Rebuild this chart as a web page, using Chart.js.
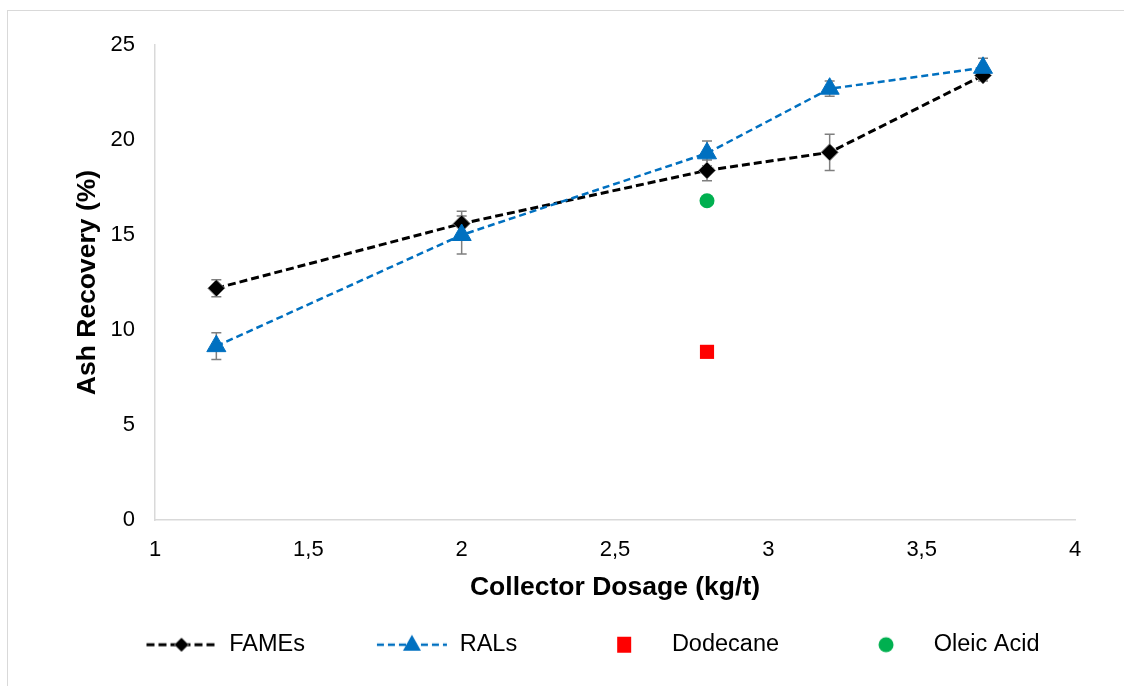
<!DOCTYPE html>
<html lang="en">
<head>
<meta charset="UTF-8" />
<title>Ash recovery vs collector dosage</title>
<style>
  html, body { margin: 0; padding: 0; background: #fff; overflow: hidden; }
  .frame { position: absolute; left: 7px; top: 10px; width: 1140px; height: 700px; border: 1px solid #d9d9d9; }
  .wrap { position: absolute; left: 0; top: 0; width: 1124px; height: 686px; }
</style>
<script src="https://cdn.jsdelivr.net/npm/chart.js"></script>
</head>
<body>
<div class="frame"></div>
<div class="wrap"><canvas id="myChart"></canvas></div>
<script>
// values
const dosage = [1.2, 2.0, 2.8, 3.2, 3.7];
const fames = [12.2, 15.6, 18.4, 19.35, 23.4];
const famesErr = [0.45, 0.65, 0.55, 0.95, 0.3];
const rals = [9.15, 15.0, 19.3, 22.7, 23.8];
const ralsErr = [0.7, 1.0, 0.65, 0.4, 0.5];
const dodecaneX = [2.8];
const dodecane = [8.85];
const oleicX = [2.8];
const oleic = [16.8];
const xTickLabels = { 1: "1", 1.5: "1,5", 2: "2", 2.5: "2,5", 3: "3", 3.5: "3,5", 4: "4" };

const BLUE = "#0070C0";
const GREY = "#7f7f7f";

function pts(xs, ys) {
  return xs.map((x, i) => ({ x: x, y: ys[i] }));
}

// little pictures for the legend (line sample + marker)
function legendIcon(kind) {
  const c = document.createElement("canvas");
  c.width = 72;
  c.height = 24;
  const g = c.getContext("2d");
  const cx = 36, cy = 12;
  if (kind == "fames" || kind == "rals") {
    g.strokeStyle = kind == "fames" ? "#000" : BLUE;
    g.lineWidth = kind == "fames" ? 3 : 2.5;
    g.setLineDash(kind == "fames" ? [8, 4] : [7, 4]);
    g.beginPath();
    g.moveTo(1, cy);
    g.lineTo(71, cy);
    g.stroke();
    g.setLineDash([]);
  }
  g.beginPath();
  if (kind == "fames") {
    g.fillStyle = "#000";
    g.strokeStyle = GREY;
    g.lineWidth = 1;
    g.moveTo(cx, cy - 7);
    g.lineTo(cx + 7, cy);
    g.lineTo(cx, cy + 7);
    g.lineTo(cx - 7, cy);
    g.closePath();
    g.fill();
    g.stroke();
  } else if (kind == "rals") {
    g.fillStyle = BLUE;
    g.moveTo(cx, cy - 10);
    g.lineTo(cx + 9, cy + 6);
    g.lineTo(cx - 9, cy + 6);
    g.closePath();
    g.fill();
  } else if (kind == "dodecane") {
    g.fillStyle = "#FF0000";
    g.fillRect(cx - 7, cy - 8, 14, 16);
  } else {
    g.fillStyle = "#00B050";
    g.arc(cx, cy, 7.5, 0, Math.PI * 2);
    g.fill();
  }
  return c;
}

// error bars drawn through the y scale
const errorBars = {
  id: "errorBars",
  beforeDatasetsDraw(chart) {
    const ctx = chart.ctx;
    const y = chart.scales.y;
    ctx.save();
    ctx.strokeStyle = GREY;
    ctx.lineWidth = 1.5;
    chart.data.datasets.forEach((ds, i) => {
      if (!ds.errors) return;
      const meta = chart.getDatasetMeta(i);
      meta.data.forEach((el, j) => {
        const v = ds.data[j].y;
        const e = ds.errors[j];
        const top = y.getPixelForValue(v + e);
        const bot = y.getPixelForValue(v - e);
        ctx.beginPath();
        ctx.moveTo(el.x, top);
        ctx.lineTo(el.x, bot);
        ctx.moveTo(el.x - 5, top);
        ctx.lineTo(el.x + 5, top);
        ctx.moveTo(el.x - 5, bot);
        ctx.lineTo(el.x + 5, bot);
        ctx.stroke();
      });
    });
    ctx.restore();
  },
};

const icons = {
  FAMEs: legendIcon("fames"),
  RALs: legendIcon("rals"),
  Dodecane: legendIcon("dodecane"),
  "Oleic Acid": legendIcon("oleic"),
};

const ctx = document.getElementById("myChart");

const chart = new Chart(ctx, {
  type: "scatter",
  data: {
    datasets: [
      {
        label: "FAMEs",
        data: pts(dosage, fames),
        errors: famesErr,
        showLine: true,
        borderColor: "#000",
        borderWidth: 3,
        borderDash: [8, 4],
        pointStyle: "rectRot",
        pointRadius: 8.5,
        pointBackgroundColor: "#000",
        pointBorderColor: GREY,
        pointBorderWidth: 1,
        order: 1,
      },
      {
        label: "RALs",
        data: pts(dosage, rals),
        errors: ralsErr,
        showLine: true,
        borderColor: BLUE,
        borderWidth: 2.5,
        borderDash: [7, 4],
        pointStyle: "triangle",
        pointRadius: 11,
        pointBackgroundColor: BLUE,
        pointBorderColor: BLUE,
        pointBorderWidth: 1,
        order: 0,
      },
      {
        label: "Dodecane",
        data: pts(dodecaneX, dodecane),
        pointStyle: "rect",
        pointRadius: 10,
        pointBackgroundColor: "#FF0000",
        pointBorderColor: "#FF0000",
        pointBorderWidth: 0,
        order: 0,
      },
      {
        label: "Oleic Acid",
        data: pts(oleicX, oleic),
        pointStyle: "circle",
        pointRadius: 7.5,
        pointBackgroundColor: "#00B050",
        pointBorderColor: "#00B050",
        pointBorderWidth: 0,
        order: 0,
      },
    ],
  },
  options: {
    responsive: true,
    maintainAspectRatio: false,
    animation: false,
    layout: { padding: { top: 45, right: 0, left: 61, bottom: 19.5 } },
    scales: {
      x: {
        type: "linear",
        min: 1,
        max: 4,
        afterFit: (s) => { s.height = 42; },
        grid: { display: false, drawTicks: false },
        border: { display: true, color: "#d9d9d9", width: 1.5 },
        ticks: {
          stepSize: 0.5,
          padding: 17,
          color: "#000",
          font: { family: "Liberation Sans", size: 22 },
          callback: (v) => xTickLabels[v],
        },
        title: {
          display: true,
          text: "Collector Dosage (kg/t)",
          color: "#000",
          font: { family: "Liberation Sans", size: 26.5, weight: "bold" },
          padding: { top: 0, bottom: -41.8 },
        },
      },
      y: {
        min: 0,
        max: 25,
        afterFit: (s) => { s.width = 94; },
        grid: { display: false, drawTicks: false },
        border: { display: true, color: "#d9d9d9", width: 1.5 },
        ticks: {
          stepSize: 5,
          padding: 20,
          color: "#000",
          font: { family: "Liberation Sans", size: 22 },
        },
        title: {
          display: true,
          text: "Ash Recovery (%)",
          color: "#000",
          font: { family: "Liberation Sans", size: 26.5, weight: "bold" },
          padding: { top: 11.2, bottom: 0 },
        },
      },
      // empty strip on the right so the plot ends where the original does
      yRight: {
        position: "right",
        afterFit: (s) => { s.width = 49; },
        grid: { display: false, drawTicks: false },
        border: { display: false },
        ticks: { display: false },
      },
    },
    plugins: {
      tooltip: { enabled: false },
      legend: {
        position: "bottom",
        labels: {
          usePointStyle: true,
          pointStyleWidth: 72,
          padding: 71,
          color: "#000",
          font: { family: "Liberation Sans", size: 23.5 },
          generateLabels: (c) =>
            c.data.datasets.map((ds, i) => ({
              text: ds.label,
              pointStyle: icons[ds.label],
              fillStyle: "transparent",
              strokeStyle: "transparent",
              lineWidth: 0,
              hidden: false,
              datasetIndex: i,
            })),
        },
      },
    },
  },
  plugins: [errorBars],
});
</script>
</body>
</html>
